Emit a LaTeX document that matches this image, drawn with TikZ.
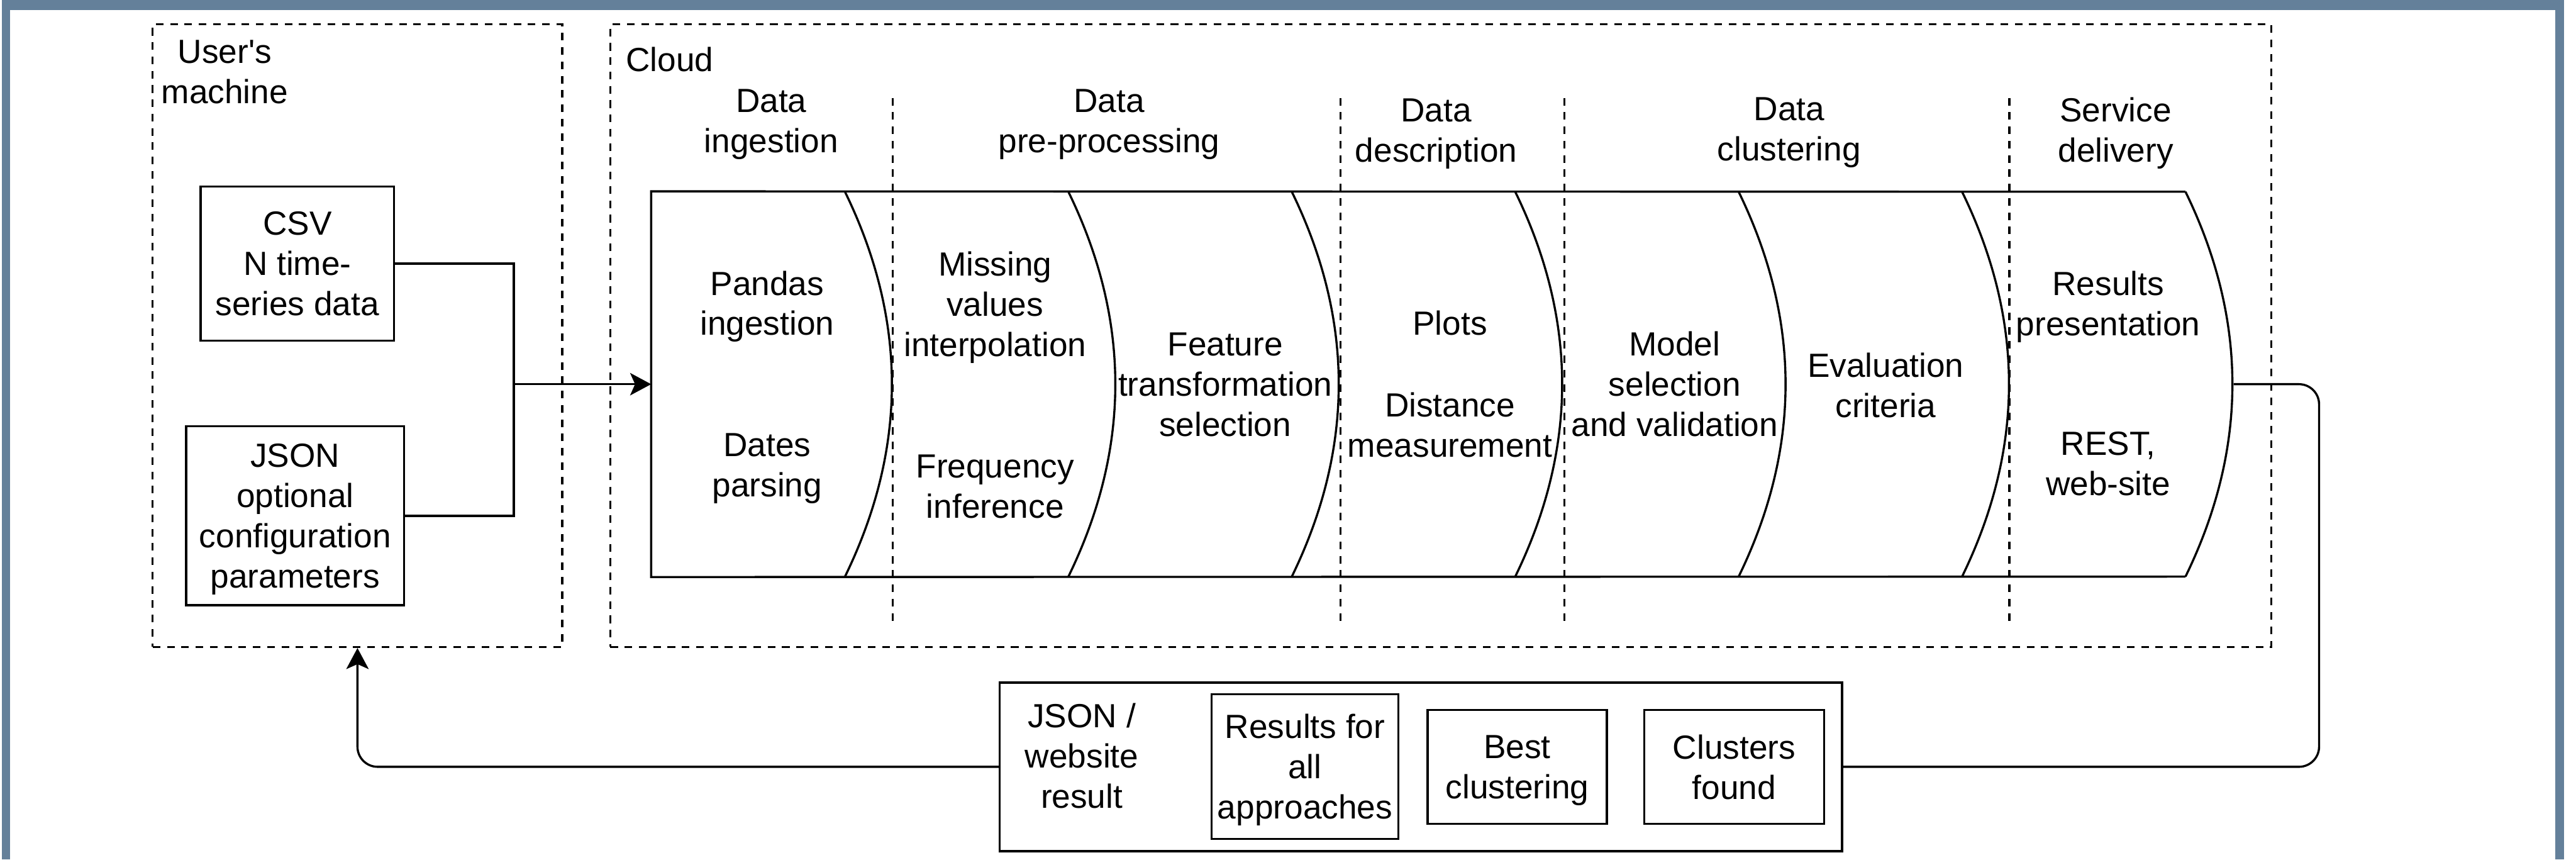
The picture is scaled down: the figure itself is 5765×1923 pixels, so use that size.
\documentclass[tikz,border=0pt]{standalone}
\usepackage{fontspec}
\setmainfont{Liberation Sans}[Ligatures=TeXOff]
\usetikzlibrary{positioning,arrows.meta,calc}
\usepackage{xcolor}
\definecolor{framegray}{RGB}{100,128,154}

\begin{document}
\begin{tikzpicture}[
  x=0.01cm, y=-0.01cm,
  box/.style={rectangle, draw, line width=1.35pt, align=center, inner sep=0pt,
    text depth=0pt, font=\fontsize{21.3}{25.6}\selectfont},
  region/.style={rectangle, draw, line width=1.35pt, dash pattern=on 0.17cm off 0.15cm,
    inner sep=0pt},
  lane/.style={line width=1.35pt, dash pattern=on 0.17cm off 0.15cm},
  stage/.style={align=center, inner sep=0pt, text depth=0pt,
    font=\fontsize{21.3}{25.6}\selectfont},
  link/.style={draw, line width=1.35pt},
  flow/.style={link, -{Stealth[length=0.47cm, width=0.5cm, inset=0.11cm]}},
]
  \useasboundingbox (0,0) rectangle (5765,1923);
  % Frame
  \fill[framegray] (4,0) rectangle (5738,23);
  \fill[framegray] (4,0) rectangle (23,1923);
  \fill[framegray] (5719,0) rectangle (5738,1923);

  % Regions
  \node[region, minimum width=9.16cm, minimum height=13.92cm] (user) at (800,751) {};
  \node[region, minimum width=37.15cm, minimum height=13.92cm] (cloud) at (3224.5,751) {};
  \node[stage] (userlbl) at (503,161) {User's\\machine};
  \node[stage, anchor=west] (cloudlbl) at (1400,132) {Cloud};

  % Inputs
  \node[box, minimum width=4.33cm, minimum height=3.45cm] (csv) at (665.5,589.5) {CSV\\N time-\\series data};
  \node[box, minimum width=4.87cm, minimum height=4cm] (json) at (660.5,1154) {JSON\\optional\\configuration\\parameters};

  % Pipeline
  \node[inner sep=0pt, minimum width=35.38cm, minimum height=8.61cm] (pipe) at (3228,859.5) {};
  \draw[line width=1.35pt] (4891,429) -- (pipe.north west) -- (pipe.south west) -- (4891,1290);
  \foreach \x in {1891,2391,...,4891}
    \draw[line width=1.35pt] (\x,429) .. controls (\x+140,716) and (\x+140,1003) .. (\x,1290);
  \foreach \x in {1998,3000,3501,4497}
    \draw[lane] (\x,219) -- (\x,1397);

  % Stage headers
  \node[stage] (hingest) at (1726,271) {Data\\ingestion};
  \node[stage] (hprep) at (2482,271) {Data\\pre-processing};
  \node[stage] (hdesc) at (3214,292) {Data\\description};
  \node[stage] (hclust) at (4004,289) {Data\\clustering};
  \node[stage] (hserv) at (4735,290) {Service\\delivery};

  % Stage contents
  \node[stage] (pandas) at (1717,678) {Pandas\\ingestion};
  \node[stage] (dates) at (1717,1040) {Dates\\parsing};
  \node[stage] (missing) at (2227,680) {Missing\\values\\interpolation};
  \node[stage] (freq) at (2227,1088) {Frequency\\inference};
  \node[stage] (feature) at (2742,860) {Feature\\transformation\\selection};
  \node[stage] (plots) at (3245,723) {Plots};
  \node[stage] (dist) at (3245,950) {Distance\\measurement};
  \node[stage] (model) at (3748,859) {Model\\selection\\and validation};
  \node[stage] (eval) at (4220,862) {Evaluation\\criteria};
  \node[stage] (present) at (4718,679) {Results\\presentation};
  \node[stage] (rest) at (4718,1037) {REST,\\web-site};

  % Result
  \node[box, minimum width=18.84cm, minimum height=3.77cm] (result) at (3180,1715.5) {};
  \node[stage] (resultlbl) at (2421,1690) {JSON /\\website\\result};
  \node[box, minimum width=4.17cm, minimum height=3.24cm] (allres) at (2920.5,1715) {Results for\\all\\approaches};
  \node[box, minimum width=4.01cm, minimum height=2.55cm] (best) at (3395.5,1715.5) {Best\\clustering};
  \node[box, minimum width=4.02cm, minimum height=2.55cm] (found) at (3881,1715.5) {Clusters\\found};

  % Connections
  \coordinate (join) at (1150,859.5);
  \coordinate (bend) at (5190,1715.5);
  \draw[link] (csv.east) -| (join);
  \draw[link] (json.east) -| (join);
  \draw[flow] (join) -- (pipe.west);
  \draw[link, rounded corners=0.45cm] (pipe.east) -| (bend) -- (result.east);
  \draw[flow, rounded corners=0.45cm] (result.west) -| (user.south);
\end{tikzpicture}
\end{document}
